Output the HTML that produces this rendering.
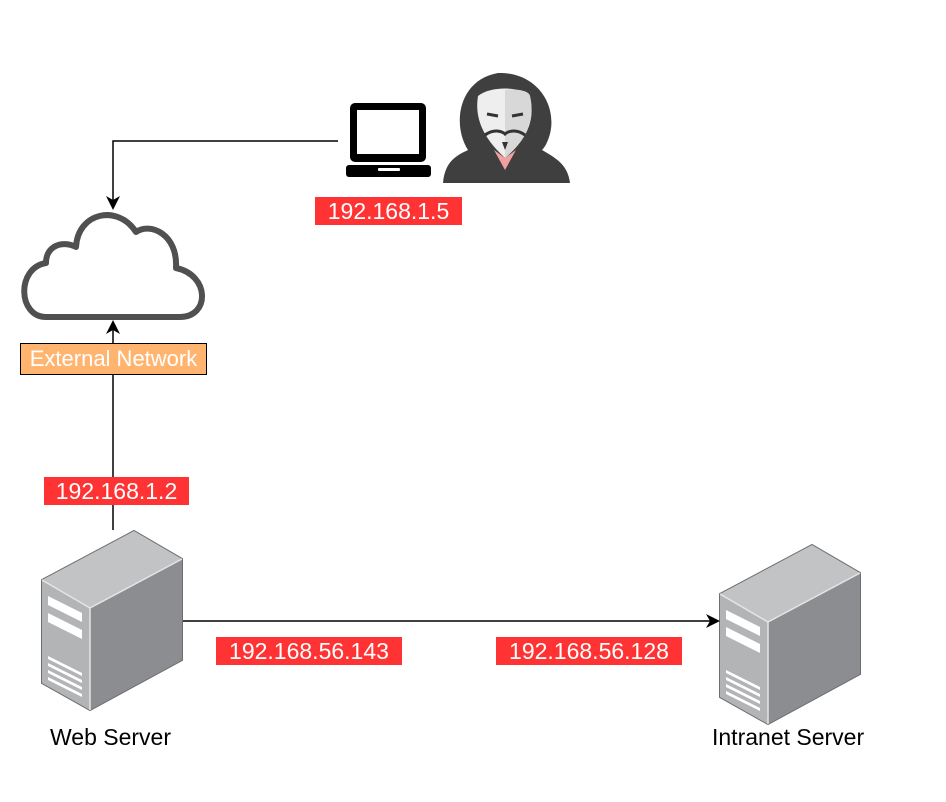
<!DOCTYPE html>
<html><head><style>
body{margin:0;background:#fff;width:946px;height:802px;overflow:hidden;font-family:"Liberation Sans",sans-serif}
.l{position:absolute;background:#ff3333;color:#fff;font-size:23px;line-height:28px;text-align:center;white-space:nowrap}
.t{position:absolute;font-size:23px;color:#000;white-space:nowrap}
</style></head><body>
<svg width="946" height="802" style="position:absolute;left:0;top:0">
<defs>
<g id="srv">
<polygon points="42,580 134,531 182,559 182,660 90,710 42,683" fill="#8a8b8e" stroke="#6d6e71" stroke-width="2"/>
<polygon points="42,580 134,531 182,559 90,608" fill="#c2c3c5"/>
<polygon points="42,580 90,608 90,710 42,683" fill="#b3b4b6"/>
<polygon points="90,608 182,559 182,660 90,710" fill="#8c8d90"/>
<line x1="42" y1="580" x2="90" y2="608" stroke="#e5e5e5" stroke-width="1.5"/>
<line x1="90" y1="608" x2="182" y2="559" stroke="#e5e5e5" stroke-width="1.5"/>
<line x1="90" y1="608" x2="90" y2="710" stroke="#e5e5e5" stroke-width="1.5"/>
<polygon points="48,596 82,613 82,622 48,605" fill="#fff"/>
<polygon points="48,613 82,630 82,639 48,622" fill="#fff"/>
<polygon points="48,656 82,673 82,676 48,659" fill="#fff"/>
<polygon points="48,663 82,680 82,683 48,666" fill="#fff"/>
<polygon points="48,670 82,687 82,690 48,673" fill="#fff"/>
<polygon points="48,677 82,694 82,697 48,680" fill="#fff"/>
</g>
</defs>
<use href="#srv"/>
<use href="#srv" transform="translate(678,14)"/>
<!-- cloud -->
<path d="M46,317 C18,317 16,268 46,263 C46,246 62,240 76,247 C78,212 118,204 136,232 C150,222 178,234 176,268 C210,275 210,317 180,317 Z" fill="#fff" stroke="#505050" stroke-width="6" stroke-linejoin="round"/>
<!-- connectors -->
<polyline points="338,141 113,141 113,200" fill="none" stroke="#000" stroke-width="1.5"/>
<polygon points="106,196 113,210 120,196 113,200" fill="#000"/>
<line x1="113" y1="530" x2="113" y2="330" stroke="#000" stroke-width="1.5"/>
<polygon points="106,334 113,320 120,334 113,330" fill="#000"/>
<line x1="183" y1="621" x2="710" y2="621" stroke="#000" stroke-width="1.5"/>
<polygon points="706,614 720,621 706,628 710,621" fill="#000"/>
<!-- laptop -->
<rect x="350" y="103" width="76" height="59" rx="5" fill="#000"/>
<rect x="357" y="110" width="62" height="44" fill="#fff"/>
<rect x="346" y="165" width="85" height="12" rx="3" fill="#000"/>
<rect x="378" y="168" width="22" height="3" rx="1" fill="#fff"/>
<!-- hacker -->
<path d="M443,183 C445,160 458,155 468,150 C452,125 458,80 498,73 C540,72 560,110 548,140 C546,145 544,148 542,150 C556,158 568,165 570,183 Z" fill="#3f3f3f"/>
<path d="M478,96 C490,86 520,86 530,96 C534,115 532,135 505,158 C480,135 475,115 478,96 Z" fill="#eee"/>
<path d="M505,90 C520,88 530,92 530,96 C534,115 532,135 505,158 Z" fill="#d8d8d8"/>
<path d="M487,114 L498,116 M512,116 L523,114" stroke="#333" stroke-width="3"/>
<path d="M485,135 C495,128 503,132 505,134 C507,132 515,128 525,135" stroke="#333" stroke-width="3" fill="none"/>
<path d="M502,142 L505,150 L508,142 Z" fill="#333"/>
<path d="M494,150 L505,170 L516,150 L505,158 Z" fill="#f0a0a0"/>
</svg>
<div style="position:absolute;left:20px;top:343px;width:185px;height:30px;background:#ffb570;border:1.5px solid #000;color:#fff;font-size:22px;line-height:30px;text-align:center;white-space:nowrap;overflow:hidden">External Network</div>
<div class="l" style="left:315px;top:197px;width:147px">192.168.1.5</div>
<div class="l" style="left:44px;top:477px;width:145px">192.168.1.2</div>
<div class="l" style="left:216px;top:637px;width:186px">192.168.56.143</div>
<div class="l" style="left:496px;top:637px;width:186px">192.168.56.128</div>
<div class="t" style="left:50px;top:724px">Web Server</div>
<div class="t" style="left:712px;top:724px">Intranet Server</div>
</body></html>
